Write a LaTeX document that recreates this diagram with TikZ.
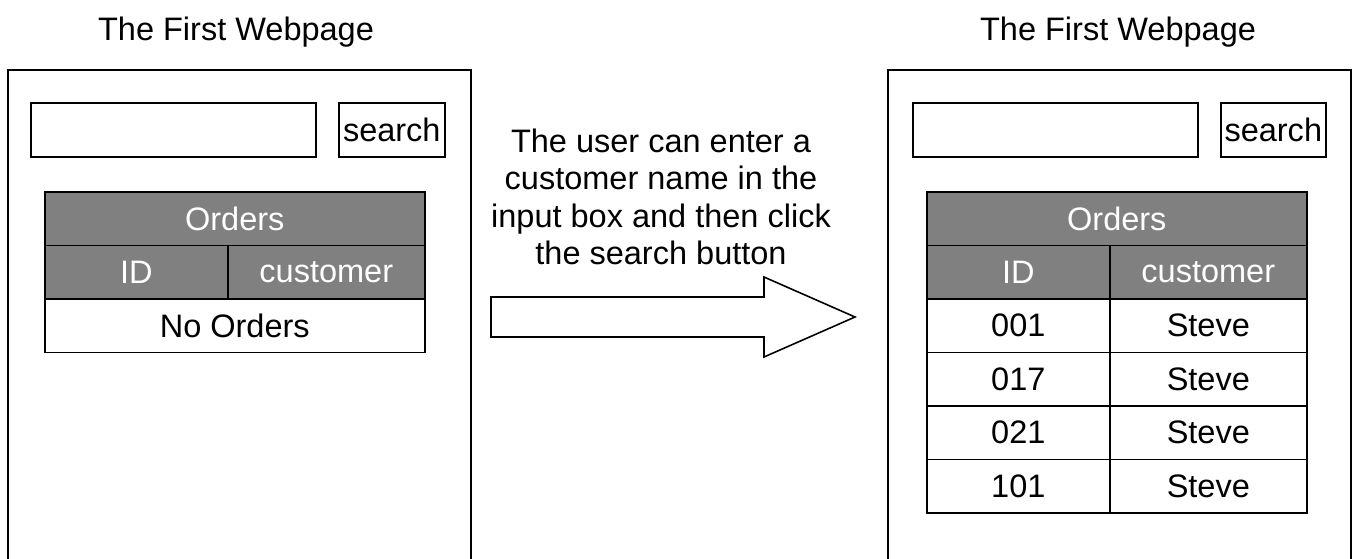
\documentclass[tikz,border=0pt]{standalone}
\usepackage{fontspec}
\setmainfont{Liberation Sans}

\def\unitpx{0.02cm}
\tikzset{
    txt/.style={font=\fontsize{18.5}{21.2}\selectfont},
    frame/.style={draw, line width=0.9pt},
    cell/.style={frame, txt, inner sep=0pt, minimum height=53.5*\unitpx, minimum width=#1*\unitpx, anchor=north west},
    head/.style={cell=#1, fill=gray, text=white}
}

\begin{document}
\begin{tikzpicture}[x=\unitpx, y=-\unitpx]
            \useasboundingbox (0,0) rectangle (1355,558);

            % Draw the two pages
            \node[frame, inner sep=0pt, anchor=north west, minimum width=463*\unitpx, minimum height=500*\unitpx] (pageL) at (7,69) {};
            \node[frame, inner sep=0pt, anchor=north west, minimum width=463*\unitpx, minimum height=500*\unitpx] (pageR) at (887,69) {};
            \node[txt, anchor=base] (titleL) at (236,40) {The First Webpage};
            \node[txt, anchor=base] (titleR) at (1118,40) {The First Webpage};

            % Draw input boxes and buttons
            \node[cell=285, minimum height=54*\unitpx] (inputL) at (30,102) {};
            \node[cell=106, minimum height=54*\unitpx] (buttonL) at (338,102) {search};
            \node[cell=285, minimum height=54*\unitpx] (inputR) at (912,102) {};
            \node[cell=105, minimum height=54*\unitpx] (buttonR) at (1220,102) {search};

            % Draw the empty table
            \node[head=380] (ordersL) at (44,191) {Orders};
            \node[head=183] (idL) at (44,244.5) {ID};
            \node[head=197] (customerL) at (227,244.5) {customer};
            \node[cell=380] (noneL) at (44,298) {No Orders};

            % Draw the filled table
            \node[head=380] (ordersR) at (926,191) {Orders};
            \node[head=183] (idR) at (926,244.5) {ID};
            \node[head=197] (customerR) at (1109,244.5) {customer};
            \foreach \id [count=\i] in {001,017,021,101} {
                \node[cell=183] (idR\i) at (926,{244.5+53.5*\i}) {\id};
                \node[cell=197] (customerR\i) at (1109,{244.5+53.5*\i}) {Steve};
            }

            % Draw the note and the block arrow
            \node[txt, align=center] (note) at (661,197) {The user can enter a\\customer name in the\\input box and then click\\the search button};
            \coordinate (A0) at (491,297);
            \coordinate (A1) at (764,297);
            \coordinate (A2) at (764,277);
            \coordinate (A3) at (855,317);
            \coordinate (A4) at (764,357);
            \coordinate (A5) at (764,337);
            \coordinate (A6) at (491,337);
            \draw[frame, fill=white] (A0) -- (A1) -- (A2) -- (A3) -- (A4) -- (A5) -- (A6) -- cycle;

\end{tikzpicture}
\end{document}
